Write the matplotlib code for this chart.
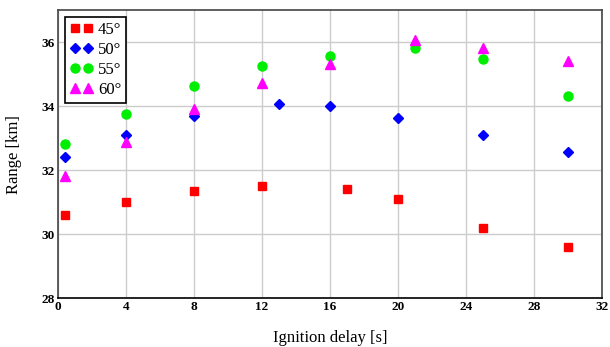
import numpy as np
import matplotlib.pyplot as plt

plt.rcParams['font.family'] = ['Liberation Serif', 'DejaVu Serif']

# ignition delay [s] and range [km] per launch angle
x45 = [0.4, 4, 8, 12, 17, 20, 25, 30]
y45 = [30.6, 31.0, 31.35, 31.5, 31.4, 31.1, 30.2, 29.6]
x50 = [0.4, 4, 8, 13, 16, 20, 25, 30]
y50 = [32.4, 33.1, 33.7, 34.05, 34.0, 33.63, 33.1, 32.55]
x55 = [0.4, 4, 8, 12, 16, 21, 25, 30]
y55 = [32.8, 33.75, 34.62, 35.25, 35.58, 35.8, 35.47, 34.3]
x60 = [0.4, 4, 8, 12, 16, 21, 25, 30]
y60 = [31.8, 32.88, 33.9, 34.72, 35.3, 36.08, 35.8, 35.42]

fig = plt.figure(figsize=(6.1, 3.47), dpi=100)
ax = fig.add_axes([0.095, 0.141, 0.892, 0.830])

ax.plot(x45, y45, 's', color='#ff0000', ms=6.2, label='45°')
ax.plot(x50, y50, 'D', color='#0000ff', ms=4.8, label='50°')
ax.plot(x55, y55, 'o', color='#00ee00', ms=6.5, label='55°')
ax.plot(x60, y60, '^', color='#ff00ff', ms=6.5, label='60°')

ax.set_xlim(0, 32)
ax.set_ylim(28, 37)
ax.set_xticks(np.arange(0, 33, 4))
ax.set_yticks(np.arange(28, 37, 2))
ax.grid(True, color='#cccccc', linewidth=1)
ax.set_axisbelow(True)
ax.tick_params(length=0, labelsize=9.5, pad=2)
for lab in ax.get_xticklabels() + ax.get_yticklabels():
    lab.set_fontweight('bold')
for s in ax.spines.values():
    s.set_color('#444444')
    s.set_linewidth(1.2)
ax.spines['bottom'].set_color('black')

ax.set_xlabel('Ignition delay [s]', fontsize=12, labelpad=12)
ax.set_ylabel('Range [km]', fontsize=12, labelpad=14)

leg = ax.legend(loc='upper left', numpoints=2, fontsize=12, frameon=True,
                fancybox=False, edgecolor='black', handlelength=1.4,
                handletextpad=0.3, borderpad=0.3, labelspacing=0.25,
                borderaxespad=0.4, framealpha=1)
leg.get_frame().set_linewidth(1.2)

fig.savefig('out.png', dpi=100)
